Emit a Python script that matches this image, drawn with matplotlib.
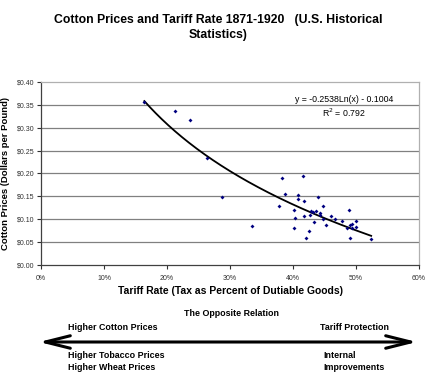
import matplotlib
matplotlib.use("Agg")
import matplotlib.pyplot as plt
import numpy as np
from matplotlib.patches import FancyArrowPatch
from matplotlib.ticker import FuncFormatter

plt.rcParams['font.family'] = ['Liberation Sans', 'DejaVu Sans']

# tariff rate (fraction of dutiable goods) and cotton price ($/lb), 1871-1920
tariff = [0.164, 0.213, 0.237, 0.264, 0.288, 0.335, 0.383, 0.416, 0.388, 0.377,
          0.408, 0.408, 0.417, 0.440, 0.448, 0.402, 0.403, 0.417, 0.402, 0.426,
          0.421, 0.428, 0.431, 0.436, 0.427, 0.434, 0.442, 0.448, 0.453, 0.461,
          0.467, 0.477, 0.489, 0.486, 0.490, 0.494, 0.494, 0.500, 0.500, 0.491,
          0.524, 0.443]
price = [0.356, 0.336, 0.317, 0.233, 0.149, 0.085, 0.190, 0.194, 0.155, 0.128,
         0.153, 0.145, 0.140, 0.149, 0.129, 0.120, 0.103, 0.106, 0.081, 0.075,
         0.059, 0.117, 0.115, 0.117, 0.109, 0.094, 0.110, 0.100, 0.088, 0.107,
         0.100, 0.096, 0.121, 0.080, 0.088, 0.089, 0.080, 0.096, 0.084, 0.059,
         0.056, 0.114]

# Excel log trendline
coef_a = -0.2538
coef_b = -0.1004
r_squared = 0.792

x_ticks = [0, 0.1, 0.2, 0.3, 0.4, 0.5, 0.6]
y_ticks = [0, 0.05, 0.10, 0.15, 0.20, 0.25, 0.30, 0.35, 0.40]

fig = plt.figure(figsize=(4.32, 3.89), dpi=100)
ax = fig.add_axes([0.095, 0.319, 0.875, 0.470])

for yv in y_ticks[1:-1]:
    ax.axhline(yv, color='#808080', lw=0.9, zorder=1)

ax.scatter(tariff, price, marker='D', s=4, color='#000080', zorder=3, linewidths=0)

xs = np.linspace(min(tariff), max(tariff), 200)
ax.plot(xs, coef_a * np.log(xs) + coef_b, color='black', lw=1.3, zorder=2)

ax.text(0.481, 0.362, f'y = {coef_a}Ln(x) - {abs(coef_b)}', fontsize=6.3,
        ha='center', va='center', zorder=4)
ax.text(0.481, 0.333, f'R$^2$ = {r_squared}', fontsize=6.3, ha='center',
        va='center', zorder=4)

ax.set_xlim(0, 0.6)
ax.set_ylim(0, 0.4)
ax.set_xticks(x_ticks)
ax.set_yticks(y_ticks)
ax.xaxis.set_major_formatter(FuncFormatter(lambda v, p: f'{v*100:.0f}%'))
ax.yaxis.set_major_formatter(FuncFormatter(lambda v, p: f'${v:.2f}'))
ax.tick_params(labelsize=5, colors='#303030', length=3, width=0.8, pad=2)
ax.tick_params(axis='x', pad=4)

for s in ['left', 'bottom']:
    ax.spines[s].set_color('#404040')
    ax.spines[s].set_linewidth(0.9)
for s in ['top', 'right']:
    ax.spines[s].set_color('#b0b0b0')
    ax.spines[s].set_linewidth(0.9)

ax.set_xlabel('Tariff Rate (Tax as Percent of Dutiable Goods)', fontsize=7.5,
              fontweight='bold', labelpad=3)
ax.set_ylabel('Cotton Prices (Dollars per Pound)', fontsize=6.8,
              fontweight='bold', labelpad=5)

fig.text(0.505, 0.948, 'Cotton Prices and Tariff Rate 1871-1920   (U.S. Historical',
         fontsize=8.8, fontweight='bold', ha='center', va='center')
fig.text(0.505, 0.910, 'Statistics)', fontsize=8.8, fontweight='bold',
         ha='center', va='center')

narrow = ['Liberation Sans Narrow', 'Liberation Sans', 'DejaVu Sans']
kw = dict(fontsize=6.4, fontweight='bold', family=narrow, va='center')
fig.text(0.535, 1 - 313 / 389, 'The Opposite Relation', ha='center', **kw)
fig.text(68 / 432, 1 - 327 / 389, 'Higher Cotton Prices', ha='left', **kw)
fig.text(320 / 432, 1 - 327 / 389, 'Tariff Protection', ha='left', **kw)
fig.text(68 / 432, 1 - 355 / 389, 'Higher Tobacco Prices', ha='left', **kw)
fig.text(68 / 432, 1 - 367 / 389, 'Higher Wheat Prices', ha='left', **kw)
fig.text(323 / 432, 1 - 355 / 389, 'Internal', ha='left', **kw)
fig.text(323 / 432, 1 - 367 / 389, 'Improvements', ha='left', **kw)

arrow = FancyArrowPatch((39 / 432, 1 - 342 / 389), (417 / 432, 1 - 342 / 389),
                        transform=fig.transFigure,
                        arrowstyle='<->,head_length=1.8,head_width=0.45',
                        color='black', lw=2.2, mutation_scale=10,
                        shrinkA=0, shrinkB=0)
fig.patches.append(arrow)

fig.savefig('out.png', dpi=100)
